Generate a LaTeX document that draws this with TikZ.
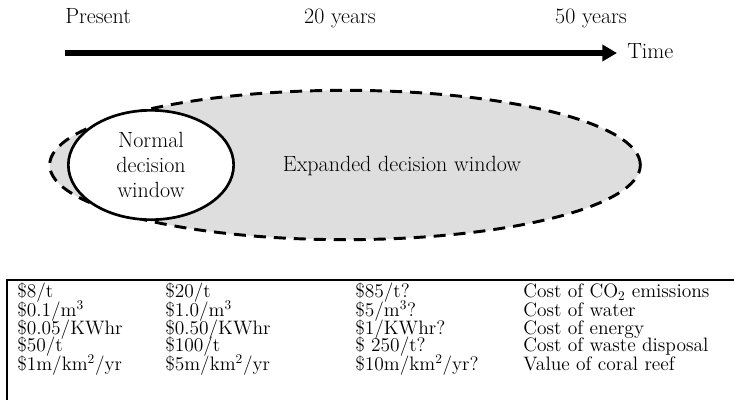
\documentclass[tikz,border=0pt]{standalone}
\usepackage{tikz}
\usetikzlibrary{shapes.geometric,arrows.meta}
\tikzset{
    big font/.style={font=\fontsize{16.5}{18.75}\selectfont},
    table font/.style={font=\fontsize{14.6}{13}\selectfont},
    expanded window/.style={shape=ellipse,draw=black,fill=black!13,line width=2.2pt,
        dash pattern=on 9pt off 6pt,minimum width=443pt,minimum height=112pt,inner sep=0},
    normal window/.style={shape=ellipse,draw=black,fill=white,line width=2pt,
        minimum width=124pt,minimum height=82pt,inner sep=0,align=center}
}
\tikzstyle{label}=[big font,inner sep=0]

\begin{document}
\begin{tikzpicture}[x=0.75pt,y=-0.75pt,>={Triangle[length=11pt,width=12pt]}]
    \useasboundingbox (0,0) rectangle (734,400);
    % time line
    \node[label,anchor=base west] (present) at (65,23) {Present};
    \node[label,anchor=base] (twenty) at (340,23) {20 years};
    \node[label,anchor=base] (fifty) at (591,23) {50 years};
    \node[label,anchor=base west] (time) at (627,58) {Time};
    \coordinate (t0) at (65,53);
    \coordinate (t1) at (617,53);
    \draw[->,line width=4.2pt] (t0) -- (t1);

    % decision windows
    \node[expanded window] (expanded) at (345,165) {};
    \node[label] (exptext) at (402,166) {Expanded decision window};
    \node[normal window,big font] (normal) at (151,165) {Normal\\decision\\window};

    % table
    \draw[line width=0.9pt] (7,400) -- (7,280) -- (734,280);
    \node[table font,anchor=north west,inner sep=0] (costs) at (17,283) {%
        \setlength\tabcolsep{0pt}%
        \begin{tabular}{p{111pt}p{142.5pt}p{126pt}l}
        \$8/t & \$20/t & \$85/t? & Cost of CO$_2$ emissions\\[-1.6pt]
        \$0.1/m$^3$ & \$1.0/m$^3$ & \$5/m$^3$? & Cost of water\\[-1.6pt]
        \$0.05/KWhr & \$0.50/KWhr & \$1/KWhr? & Cost of energy\\[-1.6pt]
        \$50/t & \$100/t & \$ 250/t? & Cost of waste disposal\\[-1.6pt]
        \$1m/km$^2$/yr & \$5m/km$^2$/yr & \$10m/km$^2$/yr? & Value of coral reef
        \end{tabular}};
\end{tikzpicture}
\end{document}
